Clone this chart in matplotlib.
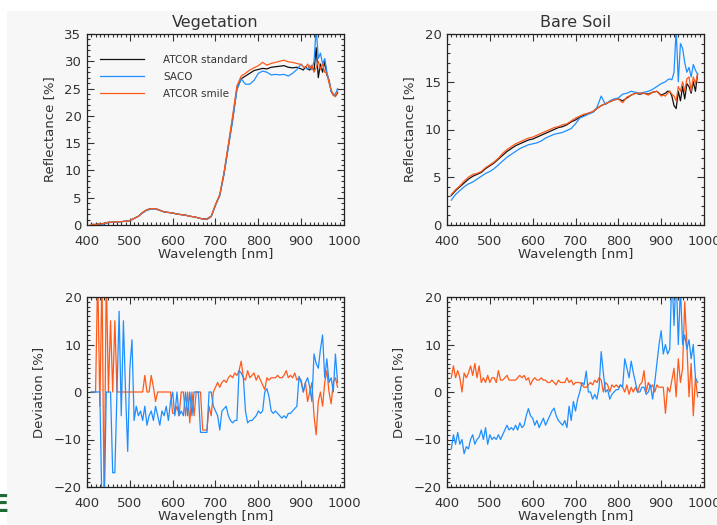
import numpy as np
import matplotlib
matplotlib.use("Agg")
import matplotlib.pyplot as plt
from matplotlib.patches import Rectangle
from matplotlib.ticker import MultipleLocator

# ---------------- data ----------------
# reflectance grid: 10 nm up to 900, then 5 nm
wl_refl = [410, 420, 430, 440, 450, 460, 470, 480, 490, 500,
           510, 520, 530, 540, 550, 560, 570, 580, 590, 600,
           610, 620, 630, 640, 650, 660, 670, 680, 690, 700,
           710, 720, 730, 740, 750, 760, 770, 780, 790, 800,
           810, 820, 830, 840, 850, 860, 870, 880, 890, 900,
           905, 910, 915, 920, 925, 930, 935, 940, 945, 950,
           955, 960, 965, 970, 975, 980, 985]

veg_standard = [0.1, 0.1, 0.2, 0.3, 0.5, 0.5, 0.6, 0.6, 0.7, 0.8,
                1.2, 1.6, 2.3, 2.8, 3.0, 3.0, 2.7, 2.4, 2.3, 2.2,
                2.0, 1.9, 1.8, 1.6, 1.5, 1.3, 1.1, 1.1, 1.6, 3.7,
                5.5, 9.5, 14.5, 19.5, 25.0, 26.8, 27.3, 27.8, 28.3, 28.5,
                28.7, 28.6, 28.9, 29.0, 29.1, 29.2, 28.9, 28.8, 28.9, 28.6,
                28.4, 29.0, 28.6, 28.4, 29.0, 28.2, 32.5, 27.0, 29.5, 28.0,
                30.0, 27.5, 26.5, 24.5, 23.8, 23.6, 24.2]
veg_saco = [-0.2, -0.2, 0.0, 0.2, 0.4, 0.5, 0.6, 0.6, 0.7, 0.8,
            1.2, 1.6, 2.2, 2.7, 2.9, 2.9, 2.7, 2.4, 2.3, 2.2,
            2.0, 1.9, 1.8, 1.6, 1.5, 1.3, 1.1, 1.0, 1.5, 3.6,
            5.4, 9.3, 14.2, 19.0, 24.8, 26.8, 25.8, 25.8, 26.5, 27.8,
            28.2, 28.0, 27.5, 27.6, 27.5, 27.6, 27.3, 27.8, 28.5, 29.5,
            29.0, 28.8, 28.5, 29.2, 28.5, 30.0, 36.0, 30.5, 31.5, 29.5,
            30.5, 28.0, 26.5, 24.5, 24.0, 24.0, 25.0]
veg_smile = [0.1, 0.1, 0.2, 0.3, 0.5, 0.5, 0.6, 0.6, 0.7, 0.8,
             1.2, 1.6, 2.3, 2.8, 3.0, 3.0, 2.7, 2.4, 2.3, 2.2,
             2.0, 1.9, 1.8, 1.6, 1.5, 1.3, 1.1, 1.1, 1.6, 3.7,
             5.6, 9.7, 14.8, 20.0, 25.5, 27.3, 27.8, 28.4, 28.8, 29.2,
             29.8, 29.3, 29.6, 29.8, 30.0, 30.2, 29.9, 29.8, 29.6, 29.4,
             29.0, 28.8, 29.5, 28.7, 29.3, 28.0, 28.8, 30.0, 28.5, 29.5,
             28.0, 27.8, 26.0, 24.8, 23.8, 23.5, 24.5]

soil_standard = [3.1, 3.6, 4.0, 4.4, 4.8, 5.1, 5.3, 5.5, 5.9, 6.2,
                 6.5, 6.9, 7.3, 7.7, 8.0, 8.3, 8.5, 8.7, 8.9, 9.0,
                 9.2, 9.4, 9.6, 9.8, 10.0, 10.2, 10.3, 10.5, 10.8, 11.0,
                 11.3, 11.5, 11.7, 11.8, 12.2, 12.5, 12.7, 12.9, 13.1, 13.2,
                 13.0, 13.3, 13.6, 13.8, 13.7, 13.8, 13.7, 13.9, 14.0, 13.6,
                 13.7, 13.8, 14.0, 14.0, 13.5, 12.5, 12.2, 14.0, 13.0, 14.5,
                 13.2, 14.8, 14.5, 13.8, 15.0, 14.0, 15.8]
soil_saco = [2.6, 3.2, 3.6, 4.0, 4.3, 4.5, 4.8, 5.1, 5.4, 5.6,
             5.9, 6.3, 6.7, 7.1, 7.4, 7.7, 8.0, 8.2, 8.4, 8.5,
             8.6, 8.8, 9.1, 9.3, 9.5, 9.6, 9.7, 9.9, 10.1, 10.6,
             11.2, 11.4, 11.6, 11.8, 12.3, 13.5, 12.6, 13.0, 13.2, 13.3,
             13.7, 13.8, 14.0, 13.9, 13.8, 13.9, 14.0, 14.2, 14.5, 14.8,
             14.9, 15.0, 15.2, 15.3, 15.2, 16.0, 20.5, 15.0, 19.0, 18.5,
             17.0, 16.0, 16.5, 15.5, 16.8, 16.2, 15.8]
soil_smile = [3.2, 3.7, 4.1, 4.6, 5.0, 5.3, 5.4, 5.6, 6.0, 6.3,
              6.6, 7.0, 7.5, 7.9, 8.2, 8.5, 8.7, 8.9, 9.1, 9.2,
              9.4, 9.6, 9.8, 10.0, 10.2, 10.3, 10.5, 10.6, 10.9, 11.2,
              11.4, 11.6, 11.7, 11.9, 12.2, 12.5, 12.7, 12.9, 13.1, 13.2,
              12.8, 13.4, 13.6, 13.8, 13.8, 13.8, 13.6, 13.9, 14.0, 13.5,
              13.6, 13.5, 13.8, 14.0, 13.7, 13.5, 13.0, 14.5, 14.0, 15.0,
              14.0, 15.3, 15.5, 14.0, 15.5, 14.8, 15.8]

# deviation grid: 5 nm
wl_dev = list(range(410, 990, 5))

veg_dev_saco = [0, 0, 0, 0, 0, -25, -25, 0, 0, 0,
                -17, -17, 0, 17, -5, 15, 0, -12.5, 5, 11,
                -6, -3, -5, -4, -6, -3, -7, -5, -4, -6,
                -3, -5, -7, -4, -5, -3, -6, -2, 0, -5,
                0, -5, -4, -5, 0, -5, 0, -5, 0, 0,
                0, -8.5, -8.5, -8.5, -8.5, 0, 0, -3, -4, -5,
                -8, -4, -3.5, -3, -5, -6, -6.5, -6, -6, 4.5,
                4, 3, -4, -6.5, -6, -6, -5.5, -5, -4, -4.5,
                -4, 0, 0.7, -1, -4, -4.5, -4, -4.5, -5, -5.5,
                -5, -5.5, -4.5, -4.5, -4, -3.5, -3, 3.3, 2, 0,
                2, 3, 1, -2, 8, 6, 5, 9, 12, 3,
                7, 2, 3, 0, 8, 2]
veg_dev_smile = [0, 0, 0, 25, -3, 25, -25, 25, 0, 15,
                 0, 15, 0, 0, 0, 0, 0, 0, 0, 0,
                 0, 0, 0, 0, 0, 3.5, 0, 0, 3.5, 1,
                 -2, 0, 0, 0, 0, 0, 0, 0, -4.5, -4.5,
                 -3, -5, 0, 0, -5, 0, -6.5, 0, -5, 0,
                 0, 0, -8, -8, -8, -3, -5, 0, 1, 2,
                 1, 2, 2.5, 2, 3, 3.5, 3, 4, 3.5, 4.5,
                 6.5, 3, 2.5, 4.5, 3, 3.5, 4, 2.5, 3.5, 2.5,
                 1.5, 0.5, 3, 2.5, 3, 3, 3, 3.5, 3, 3,
                 3.5, 4.5, 3, 3.5, 3, 4, 2.5, 3, 2.5, 0,
                 2, -2, 0, 2, -5, -9, -2, 0, -3, 2,
                 4.5, 0, -2.5, 2, 3, 1]

soil_dev_saco = [-12, -9, -11, -8.5, -11, -10, -13, -11.5, -12, -10,
                 -9, -11, -10, -9.5, -8, -10, -7.5, -11, -9, -10,
                 -9.5, -10, -9, -10, -9, -8, -7, -8, -7.5, -8,
                 -7, -8, -6.5, -7.5, -7, -5, -3.5, -5, -5.5, -7,
                 -6, -7.5, -6.5, -5.5, -7, -6, -5, -4, -3.4, -5,
                 -6, -6.5, -7, -6, -7.5, -3, -6, -2, -4, -1.5,
                 0, 2, 1.5, 4.4, 0, 0, -1.5, -0.5, -1.5, 1,
                 8.5, 4, 0, 0.5, -1.5, -0.5, 0, 0.5, 0.5, 1.5,
                 1, 7, 5, 3, 6.5, 4, 2, 0, 0, 1,
                 1, -0.5, 0, 1.5, -1.5, 2, 6, 10, 12.9, 8,
                 10, 8, 9, 25, 14, 25, 10, 22, 10, 12,
                 9, 11, 7, 10, 3, 2]
soil_dev_smile = [3, 5.5, 3, 4.5, 3, 0, 4, 3, 4, 5.5,
                  3.5, 6, 3, 5.5, 2, 3, 2, 3.5, 2, 3,
                  3, 2, 4.5, 2.5, 2.5, 3, 3.5, 2.5, 2.5, 2.5,
                  2.5, 3, 3.5, 3, 3.5, 2.5, 3, 1.5, 2.5, 3,
                  2.5, 2.5, 3, 2.5, 2.5, 2, 2, 2.5, 2, 1.5,
                  2.5, 2, 2, 2, 3, 2, 2.5, 1.5, 2, 2,
                  2, 1.5, 1, 1, 1.5, 2, 1.5, 2.5, 2, 3,
                  2.5, 0, 2, 1.5, 0, 1.5, 1, 1.5, 1, 1.5,
                  1, 0, 1.5, -0.5, 1, 0, 1, 0, 1.5, 2,
                  4.5, 0, 2, 1, 1.5, 0, 1.5, 1, 1, 1,
                  -4.5, 1, 0, 2.5, 5, -1, 7, 2, 5, 19,
                  10, -1, 6, -5, 3, -1]

labels = ["ATCOR standard", "SACO", "ATCOR smile"]

# ---------------- style ----------------
C_STD = "#111111"
C_SACO = "#1f8fff"
C_SMILE = "#ff5a1a"
BG = "#f7f7f7"
TXT = "#333333"
LW = 0.9

plt.rcParams["font.family"] = ["DejaVu Sans"]
plt.rcParams["font.size"] = 9.5

fig = plt.figure(figsize=(7.17, 5.25), dpi=100, facecolor="white")
fig.patches.append(Rectangle((7 / 717, 0), 1 - 7 / 717, 1 - 11 / 525,
                             transform=fig.transFigure, facecolor=BG,
                             edgecolor="none", zorder=-10))

W = 257 / 717
H_TOP = 191 / 525
H_BOT = 190 / 525
X_L = 87 / 717
X_R = 447 / 717
Y_T = 1 - 225 / 525
Y_B = 1 - 487 / 525

ax_veg = fig.add_axes([X_L, Y_T, W, H_TOP])
ax_soil = fig.add_axes([X_R, Y_T, W, H_TOP])
ax_vdev = fig.add_axes([X_L, Y_B, W, H_BOT])
ax_sdev = fig.add_axes([X_R, Y_B, W, H_BOT])


def style(ax, ymin, ymax, ymajor, yminor, ylabel):
    ax.set_facecolor(BG)
    ax.set_xlim(400, 1000)
    ax.set_ylim(ymin, ymax)
    ax.xaxis.set_major_locator(MultipleLocator(100))
    ax.xaxis.set_minor_locator(MultipleLocator(10))
    ax.yaxis.set_major_locator(MultipleLocator(ymajor))
    ax.yaxis.set_minor_locator(MultipleLocator(yminor))
    ax.tick_params(which="both", direction="in", top=True, right=True,
                   colors=TXT, labelcolor=TXT, width=0.8)
    ax.tick_params(which="major", length=5)
    ax.tick_params(which="minor", length=2.5)
    ax.tick_params(axis="x", which="major", pad=7)
    ax.tick_params(axis="y", which="major", pad=4)
    for s in ax.spines.values():
        s.set_color("#222222")
        s.set_linewidth(0.9)
    ax.set_xlabel("Wavelength [nm]", color=TXT, labelpad=0)
    ax.set_ylabel(ylabel, color=TXT, labelpad=6)


# Vegetation reflectance
ax_veg.plot(wl_refl, veg_standard, color=C_STD, lw=LW, label=labels[0])
ax_veg.plot(wl_refl, veg_saco, color=C_SACO, lw=LW, label=labels[1])
ax_veg.plot(wl_refl, veg_smile, color=C_SMILE, lw=LW, label=labels[2])
style(ax_veg, 0, 35, 5, 1, "Reflectance [%]")
ax_veg.set_title("Vegetation", color=TXT, fontsize=11.5, pad=5)
leg = ax_veg.legend(loc="upper left", bbox_to_anchor=(0.05, 0.89),
                    frameon=False, fontsize=7.5, handlelength=4.2,
                    handletextpad=1.9, labelspacing=0.65, borderpad=0,
                    borderaxespad=0)
for t in leg.get_texts():
    t.set_color(TXT)

# Bare soil reflectance
ax_soil.plot(wl_refl, soil_standard, color=C_STD, lw=LW)
ax_soil.plot(wl_refl, soil_saco, color=C_SACO, lw=LW)
ax_soil.plot(wl_refl, soil_smile, color=C_SMILE, lw=LW)
style(ax_soil, 0, 20, 5, 1, "Reflectance [%]")
ax_soil.set_title("Bare Soil", color=TXT, fontsize=11.5, pad=5)

# Deviations
ax_vdev.plot(wl_dev, veg_dev_smile, color=C_SMILE, lw=LW)
ax_vdev.plot(wl_dev, veg_dev_saco, color=C_SACO, lw=LW)
style(ax_vdev, -20, 20, 10, 1, "Deviation [%]")

ax_sdev.plot(wl_dev, soil_dev_smile, color=C_SMILE, lw=LW)
ax_sdev.plot(wl_dev, soil_dev_saco, color=C_SACO, lw=LW)
style(ax_sdev, -20, 20, 10, 1, "Deviation [%]")

# partial green glyph at the lower left border
fig.text(-0.010, 1 - 512 / 525, "E", color="#1d6b35", fontsize=17,
         fontweight="bold")

fig.savefig("out.png", dpi=100, facecolor="white")
